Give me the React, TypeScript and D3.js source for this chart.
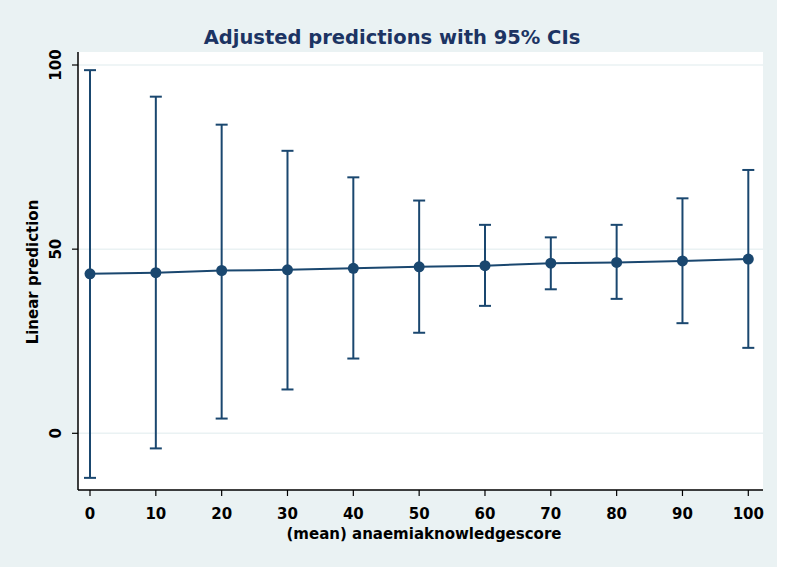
import React from "react";
import * as d3 from "d3";

const xValues = [0, 10, 20, 30, 40, 50, 60, 70, 80, 90, 100];
const margins = [43.3, 43.6, 44.2, 44.4, 44.8, 45.2, 45.5, 46.2, 46.4, 46.8, 47.3];
const upperCI = [98.6, 91.4, 83.8, 76.7, 69.5, 63.2, 56.6, 53.2, 56.6, 63.8, 71.5];
const lowerCI = [-12.1, -4.1, 4.0, 11.9, 20.3, 27.3, 34.6, 39.1, 36.5, 29.9, 23.2];
const xTicks = [0, 10, 20, 30, 40, 50, 60, 70, 80, 90, 100];
const yTicks = [0, 50, 100];

const W = 785;
const H = 571;
const plot = { left: 78, right: 763, top: 52, bottom: 490 };
const navy = "#1a476f";
const titleColor = "#1c3463";
const bg = "#eaf2f3";
const font = "'DejaVu Sans', Verdana, sans-serif";

export default function App() {
  const x = d3.scaleLinear().domain([0, 100]).range([90, 748.3]);
  const y = d3.scaleLinear().domain([0, 100]).range([433.3, 65]);
  const pts = xValues.map((v, i) => ({ x: v, m: margins[i], lo: lowerCI[i], hi: upperCI[i] }));
  const line = d3
    .line<{ x: number; m: number }>()
    .x((d) => x(d.x))
    .y((d) => y(d.m));
  const cap = 6;

  return (
    <svg
      width={W}
      height={H}
      style={{ position: "absolute", left: 0, top: 0, display: "block" }}
    >
      <rect x={0} y={0} width={W} height={H} fill="#ffffff" />
      <rect x={0} y={0} width={777} height={567} fill={bg} />
      <rect
        x={plot.left}
        y={plot.top}
        width={plot.right - plot.left}
        height={plot.bottom - plot.top}
        fill="#ffffff"
      />
      {yTicks.map((t) => (
        <line
          key={"g" + t}
          x1={plot.left}
          x2={plot.right}
          y1={y(t)}
          y2={y(t)}
          stroke={bg}
          strokeWidth={1.5}
        />
      ))}
      {pts.map((p, i) => (
        <g key={"e" + i} stroke={navy} strokeWidth={2}>
          <line x1={x(p.x)} x2={x(p.x)} y1={y(p.lo)} y2={y(p.hi)} />
          <line x1={x(p.x) - cap} x2={x(p.x) + cap} y1={y(p.hi)} y2={y(p.hi)} />
          <line x1={x(p.x) - cap} x2={x(p.x) + cap} y1={y(p.lo)} y2={y(p.lo)} />
        </g>
      ))}
      <path d={line(pts) || ""} fill="none" stroke={navy} strokeWidth={2} />
      {pts.map((p, i) => (
        <circle key={"c" + i} cx={x(p.x)} cy={y(p.m)} r={5.5} fill={navy} />
      ))}
      <line x1={plot.left} x2={plot.left} y1={plot.top} y2={plot.bottom} stroke="#000" strokeWidth={1.5} />
      <line x1={plot.left} x2={plot.right} y1={plot.bottom} y2={plot.bottom} stroke="#000" strokeWidth={1.5} />
      {yTicks.map((t) => (
        <g key={"yt" + t}>
          <line x1={plot.left - 6} x2={plot.left} y1={y(t)} y2={y(t)} stroke="#000" strokeWidth={1.2} />
          <text
            transform={`translate(61,${y(t)}) rotate(-90)`}
            textAnchor="middle"
            fontFamily={font}
            fontWeight="bold"
            fontSize={15}
            fill="#000"
          >
            {t}
          </text>
        </g>
      ))}
      {xTicks.map((t) => (
        <g key={"xt" + t}>
          <line x1={x(t)} x2={x(t)} y1={plot.bottom} y2={plot.bottom + 6} stroke="#000" strokeWidth={1.2} />
          <text
            x={x(t)}
            y={plot.bottom + 29}
            textAnchor="middle"
            fontFamily={font}
            fontWeight="bold"
            fontSize={15}
            fill="#000"
          >
            {t}
          </text>
        </g>
      ))}
      <text
        x={424}
        y={539}
        textAnchor="middle"
        fontFamily={font}
        fontWeight="bold"
        fontSize={15}
        fill="#000"
      >
        (mean) anaemiaknowledgescore
      </text>
      <text
        transform={`translate(38,272) rotate(-90)`}
        textAnchor="middle"
        fontFamily={font}
        fontWeight="bold"
        fontSize={15}
        fill="#000"
      >
        Linear prediction
      </text>
      <text
        x={392}
        y={44}
        textAnchor="middle"
        fontFamily={font}
        fontWeight="bold"
        fontSize={19.5}
        fill={titleColor}
      >
        Adjusted predictions with 95% CIs
      </text>
    </svg>
  );
}
